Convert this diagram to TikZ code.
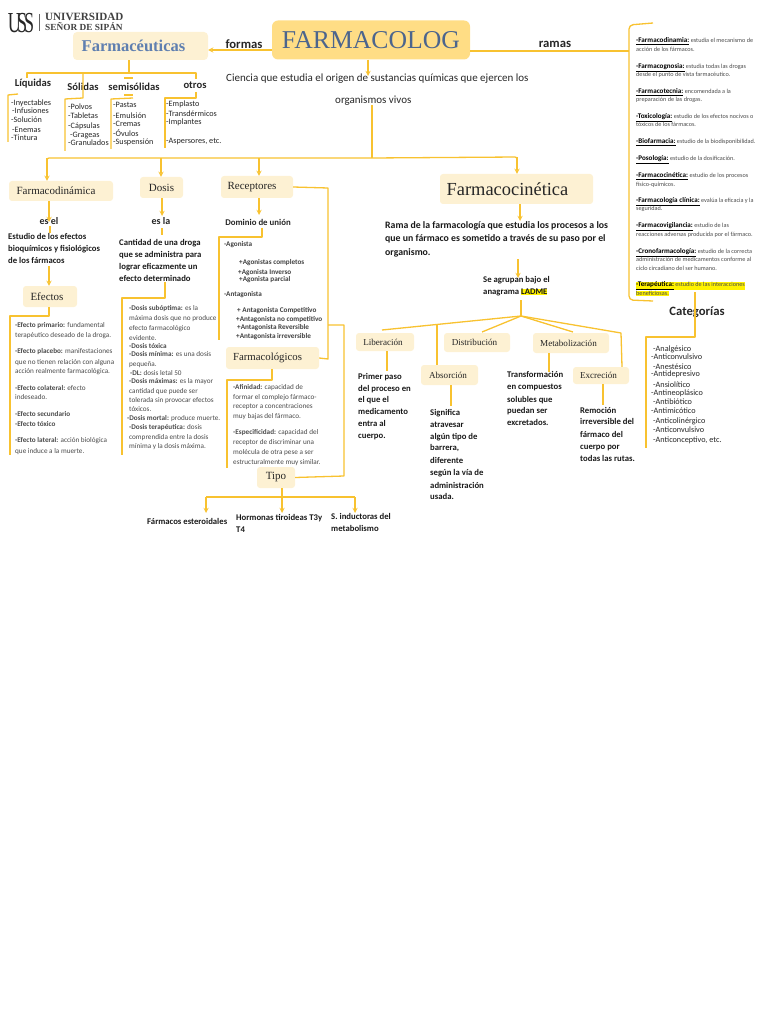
\documentclass[tikz,border=0pt]{standalone}
\usepackage{fontspec}
\setmainfont{Carlito}
\newfontfamily\serifa{Liberation Serif}
\usepackage{xcolor}
\usepackage{graphicx}
\definecolor{crema}{HTML}{FDF1D3}
\definecolor{titulo}{HTML}{FFDD85}
\definecolor{linea}{HTML}{F8C230}
\definecolor{azul}{HTML}{5F7FB0}
\definecolor{gris}{HTML}{4A4A4A}
\newcommand{\ramab}[1]{\textcolor{black}{\textbf{\underline{\fontsize{7.1}{8}\selectfont #1}}}}
\setlength{\fboxsep}{0pt}
\tikzset{
  caja/.style={fill=crema,rounded corners=3pt,inner sep=0pt,font=\serifa\fontsize{11}{13}\selectfont,text=black!85},
  cajita/.style={caja,font=\serifa\fontsize{9.1}{11}\selectfont},
  con/.style={draw=linea,line width=1.3pt,line join=round},
  txt/.style={anchor=west,inner sep=0pt,text height=.7em,text depth=.2em},
  lista/.style={txt,font=\fontsize{8.2}{9}\selectfont,text=black!85},
  cuerpo/.style={txt,font=\fontsize{7.2}{8}\selectfont,text=gris},
  agon/.style={txt,font=\bfseries\fontsize{7.2}{8}\selectfont,text=black!75},
  negra/.style={txt,font=\bfseries\fontsize{8.7}{10}\selectfont,text=black!90},
  rama/.style={txt,font=\fontsize{6.2}{7}\selectfont,text=gris},
  tit/.style={anchor=center,inner sep=0pt,font=\bfseries\fontsize{12.7}{15}\selectfont,text=black!85},
  subtit/.style={tit,font=\bfseries\fontsize{10.6}{12}\selectfont},
  esun/.style={tit,font=\bfseries\fontsize{10}{12}\selectfont}
}
\begin{document}
\begin{tikzpicture}[x=1pt,y=-1pt,>=stealth]
\useasboundingbox (0,0) rectangle (768,1024);
% logo
\node[inner sep=0pt,font=\serifa\fontsize{29}{29}\selectfont,text=black!85] (logo) at (21,23) {\scalebox{.62}[1]{U\kern-6pt S\kern-5pt S}};
\coordinate (divs) at (39,14);\coordinate (divi) at (39,31);
\draw[black!60,line width=.5pt] (divs)--(divi);
\node[txt,font=\serifa\bfseries\fontsize{11.1}{12}\selectfont,text=black!75] (uni) at (45,18) {UNIVERSIDAD};
\node[txt,font=\serifa\bfseries\fontsize{9.3}{10}\selectfont,text=black!75] (senor) at (45,28) {SEÑOR DE SIPÁN};
% titulos
\node[caja,fill=titulo,rounded corners=6pt,minimum width=198,minimum height=39,text=azul!80!black,font=\serifa\fontsize{25.7}{30}\selectfont] (farma) at (371,40) {FARMACOLOG};
\node[caja,fill=crema,rounded corners=4pt,minimum width=135,minimum height=28,text=azul,font=\serifa\bfseries\fontsize{16.5}{18}\selectfont] (cuticas) at (140.5,46) {Farmacéuticas\hspace*{14pt}};
\node[tit] (formas) at (244,44) {formas};
\node[tit] (ramas) at (555,44) {ramas};
\node[txt,font=\fontsize{11}{13}\selectfont,text=black!85] (cienc) at (226,79) {Ciencia que estudia el origen de sustancias químicas que ejercen los};
\node[txt,font=\fontsize{11}{13}\selectfont,text=black!85] (orga) at (335,101) {organismos vivos};
\coordinate (fork) at (372,158);
\coordinate (ramb) at (629,51);
\coordinate (rams) at (653,23);\coordinate (rami) at (653,301);
\draw[con,->] (farma.west |- 0,50)--(cuticas.east |- 0,50);
\draw[con] (farma.east |- 0,51)--(ramb);
\draw[con,rounded corners=4pt] (rams)--(629,25)--(629,300)--(rami);
\draw[con,->] (farma.south -| 368,0)--(368,76);
\draw[con] (372,105)--(fork);
% formas
\node[subtit] (liq) at (33,84) {Líquidas};
\node[subtit] (sol) at (83,87) {Sólidas};
\node[subtit] (semi) at (134,87) {semisólidas};
\node[subtit] (otros) at (195,85) {otros};
\coordinate (ca) at (27,78);\coordinate (cb) at (196,79);
\draw[con] (cuticas.south -| 129,0)--(129,73);
\draw[con] (ca)--(27,73)--(196,73)--(cb);
\draw[con] (83,73)--(83,98)--(65,99)--(65,151);
\draw[con] (18,94)--(8,95)--(8,142);
\draw[con] (133,98)--(111,99)--(111,149);
\draw[con] (196,92)--(196,98)--(165,98)--(165,148);
\draw[con] (124,78)--(133,78);\draw[con] (124,95)--(133,95);
\foreach \y/\x/\txt [count=\i] in {103/11/-Inyectables,111/12/-Infusiones,120/11/-Solución,130/12/-Enemas,138/11/-Tintura}
  \node[lista] (l\i) at (\x,\y) {\txt};
\foreach \y/\x/\txt [count=\i] in {107/68/-Polvos,116/68/-Tabletas,126/68/-Cápsulas,135/70/-Grageas,143/68/-Granulados}
  \node[lista] (s\i) at (\x,\y) {\txt};
\foreach \y/\txt [count=\i] in {105/-Pastas,116/-Emulsión,124/-Cremas,134/-Óvulos,142/-Suspensión}
  \node[lista] (m\i) at (113,\y) {\txt};
\foreach \y/\txt [count=\i] in {104/-Emplasto,114/-Transdérmicos,122/-Implantes,141/{-Aspersores, etc.}}
  \node[lista] (o\i) at (166,\y) {\txt};
% ramas
\foreach \y/\txt [count=\i] in {
 40/{\ramab{-Farmacodinamia:} estudia el mecanismo de},49/acción de los fármacos.,
 66/{\ramab{-Farmacognosia:} estudia todas las drogas},74/desde el punto de vista farmacéutico.,
 91/{\ramab{-Farmacotecnia:} encomendada a la},99/preparación de las drogas.,
 116/{\ramab{-Toxicología:} estudio de los efectos nocivos o},124/tóxicos de los fármacos.,
 141/{\ramab{-Biofarmacia:} estudio de la biodisponibilidad.},
 158/{\ramab{-Posología:} estudio de la dosificación.},
 175/{\ramab{-Farmacocinética:} estudio de los procesos},184/físico-químicos.,
 200/{\ramab{-Farmacología clínica:} evalúa la eficacia y la},208/seguridad.,
 225/{\ramab{-Farmacovigilancia:} estudio de las},234/reacciones adversas producida por el fármaco.,
 251/{\ramab{-Cronofarmacología:} estudio de la correcta},259/administración de medicamentos conforme al,268/ciclo circadiano del ser humano.,
 284/{\colorbox{yellow}{\ramab{-Terapéutica:} estudio de las interacciones}},293/{\colorbox{yellow}{beneficiosas.}}}
  \node[rama] (r\i) at (636,\y) {\txt};
\node[tit] (categ) at (697,312) {Categorías};
\coordinate (cats) at (695,292);\coordinate (cati) at (646,448);
\draw[con] (cats)--(695,337)--(646,337)--(cati);
\foreach \y/\x/\txt [count=\i] in {349/653/-Analgésico,357/651/-Anticonvulsivo,367/653/-Anestésico,374/651/-Antidepresivo,385/653/-Ansiolítico,393/651/-Antineoplásico,402/653/-Antibiótico,411/651/-Antimicótico,421/653/-Anticolinérgico,430/653/-Anticonvulsivo,440/653/{-Anticonceptivo, etc.}}
  \node[lista] (k\i) at (\x,\y) {\txt};
% ramas inferiores
\node[caja,minimum width=104,minimum height=20] (fdin) at (61,191) {Farmacodinámica\hspace*{10pt}};
\node[caja,minimum width=43,minimum height=21] (dosis) at (161.5,187.5) {Dosis};
\node[caja,minimum width=72,minimum height=22] (recep) at (257,187) {Receptores\hspace*{10pt}};
\node[caja,minimum width=153,minimum height=30,font=\serifa\fontsize{18.4}{20}\selectfont] (fcin) at (516.5,189) {Farmacocinética\hspace*{18pt}};
\draw[con,rounded corners=2pt] (47,165)--(47,158)--(fork)--(517,157)--(517,165);
\draw[con,->] (47,158)--(fdin.north -| 47,0);
\draw[con,->] (161,158)--(dosis.north -| 161,0);
\draw[con,->] (259,158)--(recep.north -| 259,0);
\draw[con,->] (517,157)--(fcin.north -| 517,0);
% farmacodinamica
\node[esun] (esel) at (49,221) {es el};
\draw[con,->] (fdin.south -| 49,0)--(49,222);
\draw[con] (50,226)--(50,233);
\foreach \y/\txt [count=\i] in {237/Estudio de los efectos,249/bioquímicos y fisiológicos,261/de los fármacos}
  \node[negra] (fd\i) at (8,\y) {\txt};
\node[caja,minimum width=54,minimum height=21] (efec) at (50,296.5) {Efectos\hspace*{6pt}};
\draw[con,->] (49,266)--(efec.north -| 49,0);
\draw[con] (efec.south -| 49,0)--(49,316)--(10,316)--(10,455);
\foreach \y/\txt [count=\i] in {325/{\textbf{-Efecto primario:} fundamental},335/terapéutico deseado de la droga.,
 351/{\textbf{-Efecto placebo:} manifestaciones},362/que no tienen relación con alguna,371/acción realmente farmacológica.,
 388/{\textbf{-Efecto colateral:} efecto},397/indeseado.,
 414/{\textbf{-Efecto secundario}},424/{\textbf{-Efecto tóxico}},
 440/{\textbf{-Efecto lateral:} acción biológica},451/que induce a la muerte.}
  \node[cuerpo] (e\i) at (15,\y) {\txt};
% dosis
\node[esun] (esla) at (161,221) {es la};
\draw[con,->] (dosis.south -| 162,0)--(162,216);
\draw[con] (162,228)--(162,235);
\foreach \y/\txt [count=\i] in {243/Cantidad de una droga,255/que se administra para,267/lograr eficazmente un,279/efecto determinado}
  \node[negra] (d\i) at (119,\y) {\txt};
\draw[con] (165,282)--(165,298)--(122,298)--(122,455);
\foreach \y/\x/\txt [count=\i] in {308/129/{\textbf{-Dosis subóptima:} es la},318/129/máxima dosis que no produce,328/129/efecto farmacológico,338/129/evidente.,
 346/129/{\textbf{-Dosis tóxica}},354/129/{\textbf{-Dosis mínima:} es una dosis},364/129/pequeña.,373/130/{\textbf{-DL:} dosis letal 50},
 381/129/{\textbf{-Dosis máximas:} es la mayor},391/129/cantidad que puede ser,400/129/tolerada sin provocar efectos,409/129/tóxicos.,
 418/127/{\textbf{-Dosis mortal:} produce muerte.},427/129/{\textbf{-Dosis terapéutica:} dosis},437/129/comprendida entre la dosis,446/129/mínima y la dosis máxima.}
  \node[cuerpo] (ds\i) at (\x,\y) {\txt};
% receptores
\node[txt,anchor=center,font=\bfseries\fontsize{8.8}{10}\selectfont,text=black!85] (dominio) at (258,223) {Dominio de unión};
\draw[con,->] (recep.south -| 259,0)--(259,215);
\draw[con] (dominio.south -| 262,0)--(262,237)--(219,237)--(219,340);
\foreach \y/\x/\txt [count=\i] in {244/224/-Agonista,262/239/+Agonistas completos,272/238/+Agonista Inverso,279/239/+Agonista parcial,294/224/-Antagonista,310/237/+ Antagonista Competitivo,319/236/+Antagonista no competitivo,327/237/+Antagonista Reversible,336/236/+Antagonista irreversible}
  \node[agon] (a\i) at (\x,\y) {\txt};
\node[caja,minimum width=93,minimum height=22,font=\serifa\fontsize{10.8}{13}\selectfont] (fcol) at (272.5,358) {Farmacológicos\hspace*{10pt}};
\coordinate (vb) at (328,325);
\draw[con] (recep.east)--(328,188)--(328,359)--(fcol.east);
\draw[con] (fcol.south -| 272,0)--(272,380)--(227,380)--(227,468);
\foreach \y/\txt [count=\i] in {387/{\textbf{-Afinidad:} capacidad de},397/formar el complejo fármaco-,406/receptor a concentraciones,416/muy bajas del fármaco.,432/{\textbf{-Especificidad:} capacidad del},442/receptor de discriminar una,452/molécula de otra pese a ser,462/estructuralmente muy similar.}
  \node[cuerpo] (f\i) at (233,\y) {\txt};
\node[caja,minimum width=38,minimum height=21] (tipo) at (276,477.5) {Tipo};
\draw[con] (vb)--(344,325)--(344,476)--(tipo.east);
\coordinate (ta) at (206,497);\coordinate (tb) at (355,497);
\draw[con,->] (tipo.south -| 282,0)--(282,513);
\draw[con] (ta)--(tb);
\draw[con,->] (ta)--(206,513);
\draw[con,->] (tb)--(355,513);
\node[negra] (t1) at (147,522) {Fármacos esteroidales};
\node[negra] (t2) at (236,518) {Hormonas tiroideas T3y};
\node[negra] (t3) at (236,530) {T4};
\node[negra] (t4) at (331,517) {S. inductoras del};
\node[negra] (t5) at (331,529) {metabolismo};
% farmacocinetica
\draw[con,->] (fcin.south -| 520,0)--(520,221);
\foreach \y/\txt [count=\i] in {226/Rama de la farmacología que estudia los procesos a los,239/que un fármaco es sometido a través de su paso por el,253/organismo.}
  \node[negra,font=\bfseries\fontsize{9.8}{11}\selectfont] (c\i) at (385,\y) {\txt};
\draw[con,->] (518,259)--(518,278);
\node[negra] (agr) at (483,280) {Se agrupan bajo el};
\node[negra] (ana) at (483,292) {anagrama \colorbox{yellow}{LADME}};
\coordinate (lad) at (521,316);
\draw[con] (521,300)--(lad);
\node[cajita,minimum width=58,minimum height=18] (lib) at (385,342) {Liberación\hspace*{4pt}};
\node[cajita,minimum width=66,minimum height=19] (dis) at (477,342.5) {Distribución\hspace*{5pt}};
\node[cajita,minimum width=76,minimum height=20] (met) at (571,343) {Metabolización\hspace*{5pt}};
\node[cajita,minimum width=57,minimum height=20] (abs) at (449.5,375) {Absorción\hspace*{3pt}};
\node[cajita,minimum width=56,minimum height=17] (exc) at (601,375.5) {Excreción\hspace*{5pt}};
\draw[con] (lad)--(382,330);
\draw[con] (437,325)--(abs.north -| 437,0);
\draw[con] (lad)--(482,332);
\draw[con] (lad)--(573,332);
\draw[con] (lad)--(621,333)--(exc.north -| 622,0);
\draw[con] (lib.south -| 387,0)--(387,371);
\draw[con] (abs.south -| 451,0)--(451,406);
\draw[con] (met.south -| 549,0)--(549,372);
\draw[con] (exc.south -| 603,0)--(603,405);
\foreach \y/\txt [count=\i] in {377/Primer paso,389/del proceso en,400/el que el,412/medicamento,424/entra al,436/cuerpo.}
  \node[negra] (p\i) at (358,\y) {\txt};
\foreach \y/\txt [count=\i] in {413/Significa,425/atravesar,437/algún tipo de,448/{barrera,},461/diferente,473/según la vía de,486/administración,497/usada.}
  \node[negra] (q\i) at (430,\y) {\txt};
\foreach \y/\txt [count=\i] in {375/Transformación,387/en compuestos,400/solubles que,411/puedan ser,423/excretados.}
  \node[negra] (u\i) at (507,\y) {\txt};
\foreach \y/\txt [count=\i] in {411/Remoción,422/irreversible del,435/fármaco del,447/cuerpo por,459/todas las rutas.}
  \node[negra] (v\i) at (580,\y) {\txt};
\end{tikzpicture}
\end{document}
